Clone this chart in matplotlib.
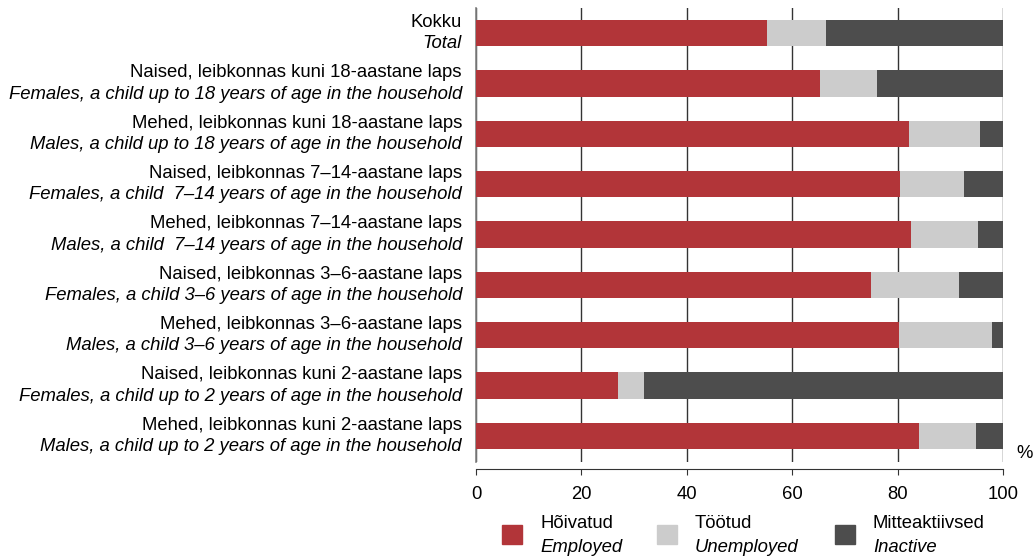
import matplotlib.pyplot as plt
import matplotlib.transforms as mtransforms
from matplotlib.patches import Rectangle

plt.rcParams['font.family'] = ['Liberation Sans', 'DejaVu Sans']

# category labels (Estonian / English)
labels_et = ['Kokku',
             'Naised, leibkonnas kuni 18-aastane laps',
             'Mehed, leibkonnas kuni 18-aastane laps',
             'Naised, leibkonnas 7–14-aastane laps',
             'Mehed, leibkonnas 7–14-aastane laps',
             'Naised, leibkonnas 3–6-aastane laps',
             'Mehed, leibkonnas 3–6-aastane laps',
             'Naised, leibkonnas kuni 2-aastane laps',
             'Mehed, leibkonnas kuni 2-aastane laps']
labels_en = ['Total',
             'Females, a child up to 18 years of age in the household',
             'Males, a child up to 18 years of age in the household',
             'Females, a child  7–14 years of age in the household',
             'Males, a child  7–14 years of age in the household',
             'Females, a child 3–6 years of age in the household',
             'Males, a child 3–6 years of age in the household',
             'Females, a child up to 2 years of age in the household',
             'Males, a child up to 2 years of age in the household']

employed   = [55.2, 65.3, 82.2, 80.5, 82.6, 74.9, 80.3, 27.0, 84.1]
unemployed = [11.2, 10.8, 13.4, 12.1, 12.6, 16.7, 17.6,  4.9, 10.7]
inactive   = [33.6, 23.9,  4.4,  7.4,  4.8,  8.4,  2.1, 68.1,  5.2]

series_et = ['Hõivatud', 'Töötud', 'Mitteaktiivsed']
series_en = ['Employed', 'Unemployed', 'Inactive']
colors = ['#B23539', '#CCCCCC', '#4D4D4D']

FS = 13.3

fig = plt.figure(figsize=(10.34, 5.57), dpi=100)
ax = fig.add_axes([476/1034, 1-462/557, 527/1034, 454/557])

y = list(range(len(employed)))
left2 = [a + b for a, b in zip(employed, unemployed)]
ax.barh(y, employed, height=0.52, color=colors[0], zorder=3)
ax.barh(y, unemployed, left=employed, height=0.52, color=colors[1], zorder=3)
ax.barh(y, inactive, left=left2, height=0.52, color=colors[2], zorder=3)

ax.set_xlim(0, 100)
ax.set_ylim(8.52, -0.5)
ax.set_xticks([0, 20, 40, 60, 80, 100])
ax.set_yticks([])
ax.grid(axis='x', color='#333333', linewidth=1.0, zorder=0)
ax.set_axisbelow(True)

for s in ['top', 'right']:
    ax.spines[s].set_visible(False)
ax.spines['left'].set_color('#808080')
ax.spines['left'].set_linewidth(1.2)
ax.spines['bottom'].set_position(('outward', 5))
ax.spines['bottom'].set_color('#333333')
ax.tick_params(axis='x', direction='out', length=4, color='#333333',
               labelsize=FS, pad=8)

# two-line category labels
trans = mtransforms.offset_copy(ax.get_yaxis_transform(), fig=fig, x=-14, y=0, units='dots')
for i in y:
    ax.text(0, i - 0.21, labels_et[i], transform=trans, ha='right', va='center', fontsize=FS)
    ax.text(0, i + 0.21, labels_en[i], transform=trans, ha='right', va='center',
            fontsize=FS, style='italic')

fig.text(1016/1034, 1-453/557, '%', fontsize=FS, va='center', ha='left')

# legend drawn by hand
leg_x = [502, 657, 835]
for k in range(3):
    fig.add_artist(Rectangle((leg_x[k]/1034, 1-544/557), 20/1034, 19/557,
                             color=colors[k], transform=fig.transFigure))
    fig.text((leg_x[k] + 38)/1034, 1-523/557, series_et[k], fontsize=FS, va='center')
    fig.text((leg_x[k] + 38)/1034, 1-547/557, series_en[k], fontsize=FS, va='center',
             style='italic')

plt.savefig('out.png', dpi=100)
